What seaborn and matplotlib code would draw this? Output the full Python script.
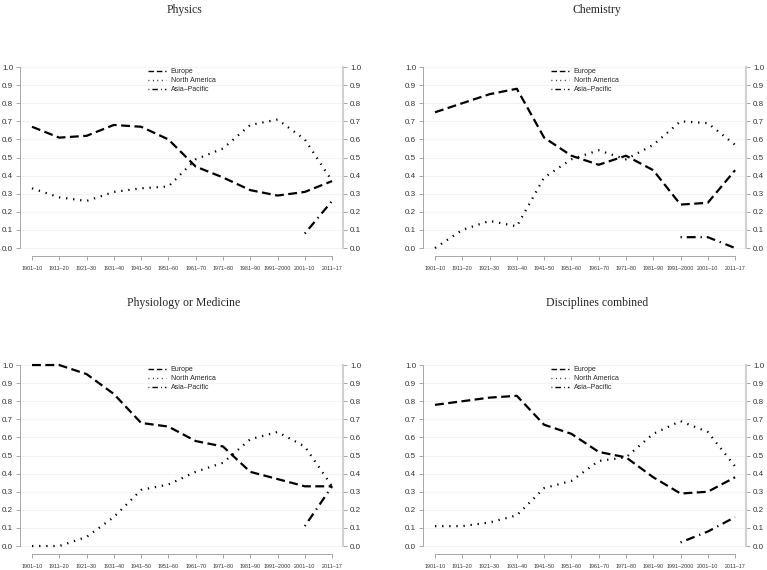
import numpy as np
import pandas as pd
import matplotlib
matplotlib.use('Agg')
import matplotlib.pyplot as plt
import seaborn as sns

# periods on the x axis
periods = ['1901–10', '1911–20', '1921–30', '1931–40', '1941–50', '1951–60',
           '1961–70', '1971–80', '1981–90', '1991–2000', '2001–10', '2011–17']
nan = np.nan

# shares
physics_europe = [0.67, 0.61, 0.62, 0.68, 0.67, 0.60, 0.45, 0.39, 0.32, 0.29, 0.31, 0.37]
physics_na = [0.33, 0.28, 0.26, 0.31, 0.33, 0.34, 0.49, 0.55, 0.68, 0.71, 0.60, 0.37]
physics_ap = [nan, nan, nan, nan, nan, nan, nan, nan, nan, nan, 0.08, 0.26]

chemistry_europe = [0.75, 0.80, 0.85, 0.88, 0.61, 0.51, 0.46, 0.51, 0.43, 0.24, 0.25, 0.43]
chemistry_na = [0.00, 0.10, 0.15, 0.12, 0.39, 0.49, 0.54, 0.49, 0.57, 0.70, 0.69, 0.57]
chemistry_ap = [nan, nan, nan, nan, nan, nan, nan, nan, nan, 0.06, 0.06, 0.00]

medicine_europe = [1.00, 1.00, 0.95, 0.84, 0.68, 0.66, 0.58, 0.55, 0.41, 0.37, 0.33, 0.33]
medicine_na = [0.00, 0.00, 0.05, 0.16, 0.31, 0.34, 0.41, 0.46, 0.59, 0.63, 0.55, 0.33]
medicine_ap = [nan, nan, nan, nan, nan, nan, nan, nan, nan, nan, 0.11, 0.33]

combined_europe = [0.78, 0.80, 0.82, 0.83, 0.67, 0.62, 0.52, 0.49, 0.38, 0.29, 0.30, 0.38]
combined_na = [0.11, 0.11, 0.13, 0.17, 0.32, 0.36, 0.47, 0.49, 0.62, 0.69, 0.63, 0.44]
combined_ap = [nan, nan, nan, nan, nan, nan, nan, nan, nan, 0.02, 0.08, 0.16]

region_names = ['Europe', 'North America', 'Asia–Pacific']
region_styles = [(0, (4, 2)), (0, (0.6, 2.6)), (0, (0.6, 2.2, 4, 2.2))]

panels = [
    ('Physics', [physics_europe, physics_na, physics_ap]),
    ('Chemistry', [chemistry_europe, chemistry_na, chemistry_ap]),
    ('Physiology or Medicine', [medicine_europe, medicine_na, medicine_ap]),
    ('Disciplines combined', [combined_europe, combined_na, combined_ap]),
]

sns.set_theme(style='white')
plt.rcParams['font.family'] = ['Liberation Sans', 'DejaVu Sans']

W, H = 767, 570
fig = plt.figure(figsize=(W / 100, H / 100), dpi=100)

# panel boxes in pixels: left, right, bottom(x axis line), title y, title x
boxes = [
    (20, 343, 256, 10, 184),
    (423, 746, 256, 10, 597),
    (20, 343, 554, 303, 184),
    (423, 746, 554, 303, 597),
]
ymin, ymax = -0.044, 1.02
px_per_unit = 181

x_idx = np.arange(len(periods))
yticks = np.round(np.arange(0, 1.01, 0.1), 1)

for (title, series), (l, r, b, ty, tx) in zip(panels, boxes):
    top = b - (ymax - ymin) * px_per_unit
    ax = fig.add_axes([l / W, 1 - b / H, (r - l) / W, (b - top) / H])
    for vals, name, ls in zip(series, region_names, region_styles):
        df = pd.DataFrame({'period': x_idx, 'share': vals})
        sns.lineplot(data=df, x='period', y='share', ax=ax, color='black',
                     lw=1.6, linestyle=ls, label=name)
    ax.set_xlim(-0.44, 11.4)
    ax.set_ylim(ymin, ymax)
    ax.set_xlabel('')
    ax.set_ylabel('')
    for yv in yticks:
        ax.axhline(yv, color='#f3f3f3', lw=0.8, zorder=0)
    ax.set_xticks(x_idx)
    ax.set_xticklabels(periods, fontsize=3.9, color='#333333')
    ax.set_yticks(yticks)
    ax.set_yticklabels([f'{v:.1f}' for v in yticks], fontsize=5.8, color='#333333')
    ax.tick_params(axis='x', length=3, width=0.6, color='#999999', pad=4, bottom=True)
    ax.tick_params(axis='y', length=3, width=0.6, color='#999999', pad=2, left=True)
    ax.spines['top'].set_visible(False)
    ax.spines['right'].set_visible(False)
    ax.spines['left'].set_bounds(0, 1)
    ax.spines['left'].set_color('#999999')
    ax.spines['left'].set_linewidth(0.6)
    ax.spines['bottom'].set_bounds(0, 11)
    ax.spines['bottom'].set_color('#999999')
    ax.spines['bottom'].set_linewidth(0.6)

    ax2 = ax.twinx()
    ax2.set_ylim(ymin, ymax)
    ax2.set_yticks(yticks)
    ax2.set_yticklabels([f'{v:.1f}' for v in yticks], fontsize=5.8, color='#333333')
    ax2.tick_params(axis='y', length=3, width=0.6, color='#999999', pad=2, right=True)
    for s in ['top', 'left', 'bottom']:
        ax2.spines[s].set_visible(False)
    ax2.spines['right'].set_bounds(0, 1)
    ax2.spines['right'].set_color('#d0d0d0')
    ax2.spines['right'].set_linewidth(1.5)

    leg = ax.legend(loc='upper left', bbox_to_anchor=(0.38, 1.0), frameon=False,
                    fontsize=5.0, handlelength=2.6, labelspacing=0.3, borderpad=0.2,
                    handletextpad=0.7)
    for h in leg.get_lines():
        h.set_linewidth(1.0)

    fig.text(tx / W, 1 - ty / H, title, ha='center', va='center',
             fontsize=8.5, family=['Liberation Serif', 'DejaVu Serif'])

fig.savefig('out.png', dpi=100)
